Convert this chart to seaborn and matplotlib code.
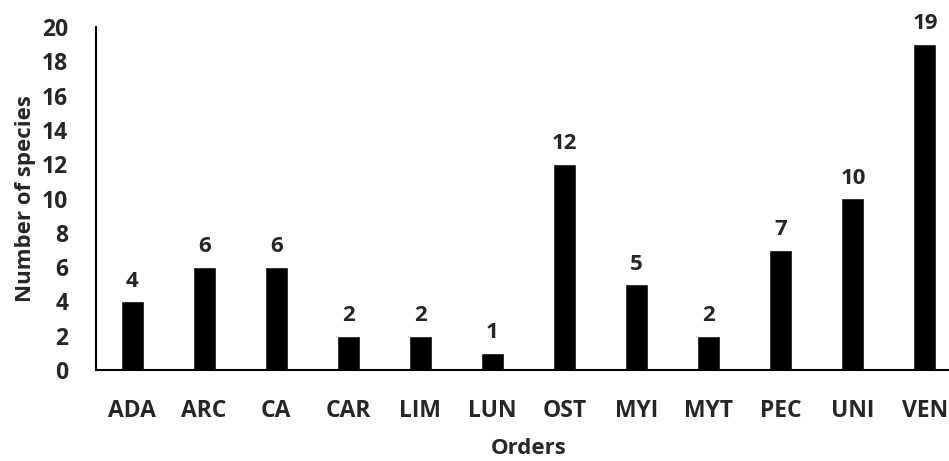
import matplotlib
matplotlib.use("Agg")
import matplotlib.pyplot as plt
import seaborn as sns
import pandas as pd

orders = ["ADA", "ARC", "CA", "CAR", "LIM", "LUN", "OST", "MYI", "MYT", "PEC", "UNI", "VEN"]
species = [4, 6, 6, 2, 2, 1, 12, 5, 2, 7, 10, 19]
yticks = list(range(0, 21, 2))

sns.set_style("white")
plt.rcParams['font.family'] = ['Open Sans', 'DejaVu Sans']
plt.rcParams['font.weight'] = 'bold'

df = pd.DataFrame({"Orders": orders, "Number of species": species})

fig = plt.figure(figsize=(9.49, 4.61), dpi=100)
ax = fig.add_axes([96/949, 91/461, (961-96)/949, (370-27)/461])
sns.barplot(data=df, x="Orders", y="Number of species", color="black",
            width=0.32, ax=ax, saturation=1)
ax.set_xlim(-0.5, len(orders) - 0.5)
ax.set_ylim(0, 20)
ax.set_yticks(yticks)
for s in ["top", "right"]:
    ax.spines[s].set_visible(False)
for s in ["left", "bottom"]:
    ax.spines[s].set_color("black")
    ax.spines[s].set_linewidth(1.5)
ax.tick_params(axis="both", length=0, labelsize=16.5)
ax.tick_params(axis="x", pad=21)
ax.tick_params(axis="y", pad=20)
for lbl in ax.get_xticklabels() + ax.get_yticklabels():
    lbl.set_fontweight("bold")
ax.set_xlabel("Orders", fontsize=16, fontweight="bold", labelpad=11)
ax.set_ylabel("Number of species", fontsize=16, fontweight="bold", labelpad=4)
for c in ax.containers:
    ax.bar_label(c, padding=7, fontsize=16, fontweight="bold")

fig.savefig("out.png", dpi=100)
